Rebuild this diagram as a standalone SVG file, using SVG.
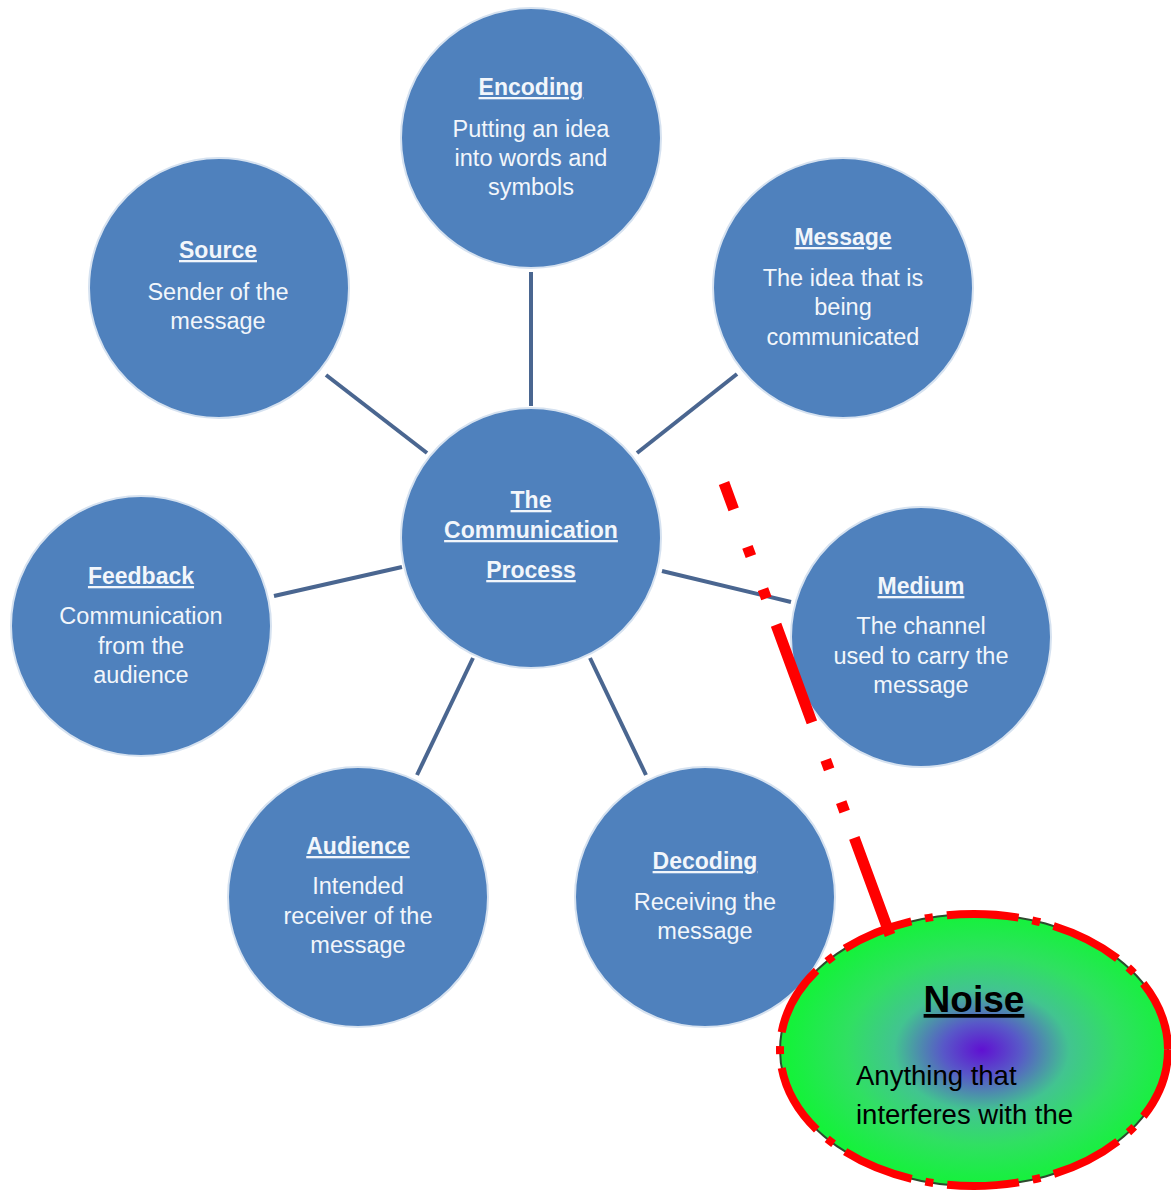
<svg xmlns="http://www.w3.org/2000/svg" width="1171" height="1191" viewBox="0 0 1171 1191">
<defs>
<style>
.node circle{fill:#4f81bd;stroke:#d6e2f0;stroke-width:2}
.t{font-family:"Liberation Sans",Arial,sans-serif;font-size:23px;font-weight:bold;fill:#f2f6fb;text-anchor:middle;text-decoration:underline}
.b{font-family:"Liberation Sans",Arial,sans-serif;font-size:23.5px;fill:#f2f6fb;text-anchor:middle}
.conn line{stroke:#4a6690;stroke-width:4}
.nt{font-family:"Liberation Sans",Arial,sans-serif;font-size:37px;font-weight:bold;fill:#000;text-anchor:middle;text-decoration:underline}
.nb{font-family:"Liberation Sans",Arial,sans-serif;font-size:27.5px;fill:#000}
</style>
<radialGradient id="ng" cx="0.52" cy="0.5" r="0.5">
<stop offset="0" stop-color="#6010d2"/>
<stop offset="0.2" stop-color="#5858c8"/>
<stop offset="0.45" stop-color="#42c490"/>
<stop offset="0.7" stop-color="#30e062"/>
<stop offset="1" stop-color="#14f23a"/>
</radialGradient>
</defs>
<rect width="1171" height="1191" fill="#ffffff"/>
<g id="connectors" class="conn">
<line x1="531" y1="272" x2="531" y2="406"/>
<line x1="326" y1="375" x2="427" y2="453"/>
<line x1="737" y1="374" x2="637" y2="453"/>
<line x1="274" y1="596" x2="402" y2="567"/>
<line x1="662" y1="571" x2="791" y2="602"/>
<line x1="417" y1="775" x2="473" y2="658"/>
<line x1="646" y1="775" x2="590" y2="658"/>
</g>
<g id="encoding" class="node">
<circle cx="531" cy="138" r="130"/>
<text class="t" x="531" y="95">Encoding</text>
<text class="b" x="531" y="137">Putting an idea</text>
<text class="b" x="531" y="166">into words and</text>
<text class="b" x="531" y="195">symbols</text>
</g>
<g id="source" class="node">
<circle cx="219" cy="288" r="130"/>
<text class="t" x="218" y="258">Source</text>
<text class="b" x="218" y="300">Sender of the</text>
<text class="b" x="218" y="329">message</text>
</g>
<g id="message" class="node">
<circle cx="843" cy="288" r="130"/>
<text class="t" x="843" y="245">Message</text>
<text class="b" x="843" y="286">The idea that is</text>
<text class="b" x="843" y="315">being</text>
<text class="b" x="843" y="345">communicated</text>
</g>
<g id="center" class="node">
<circle cx="531" cy="538" r="130"/>
<text class="t" x="531" y="508">The</text>
<text class="t" x="531" y="538">Communication</text>
<text class="t" x="531" y="578">Process</text>
</g>
<g id="feedback" class="node">
<circle cx="141" cy="626" r="130"/>
<text class="t" x="141" y="584">Feedback</text>
<text class="b" x="141" y="624">Communication</text>
<text class="b" x="141" y="654">from the</text>
<text class="b" x="141" y="683">audience</text>
</g>
<g id="medium" class="node">
<circle cx="921" cy="637" r="130"/>
<text class="t" x="921" y="594">Medium</text>
<text class="b" x="921" y="634">The channel</text>
<text class="b" x="921" y="664">used to carry the</text>
<text class="b" x="921" y="693">message</text>
</g>
<g id="audience" class="node">
<circle cx="358" cy="897" r="130"/>
<text class="t" x="358" y="854">Audience</text>
<text class="b" x="358" y="894">Intended</text>
<text class="b" x="358" y="924">receiver of the</text>
<text class="b" x="358" y="953">message</text>
</g>
<g id="decoding" class="node">
<circle cx="705" cy="897" r="130"/>
<text class="t" x="705" y="869">Decoding</text>
<text class="b" x="705" y="910">Receiving the</text>
<text class="b" x="705" y="939">message</text>
</g>
<g id="noise">
<ellipse cx="974" cy="1050" rx="194" ry="136" fill="url(#ng)" stroke="#2e4a2e" stroke-width="2"/>
<ellipse cx="974" cy="1050" rx="194" ry="136" fill="none" stroke="#ff0000" stroke-width="8" stroke-dasharray="72 14 8 14"/>
<text class="nt" x="974" y="1012">Noise</text>
<text class="nb" x="856" y="1085">Anything that</text>
<text class="nb" x="856" y="1124">interferes with the</text>
</g>
<g id="noise-link">
<line x1="724" y1="483" x2="890" y2="935" stroke="#ff0000" stroke-width="11" stroke-dasharray="104 40 10 35 10 28" stroke-dashoffset="76"/>
</g>
</svg>
